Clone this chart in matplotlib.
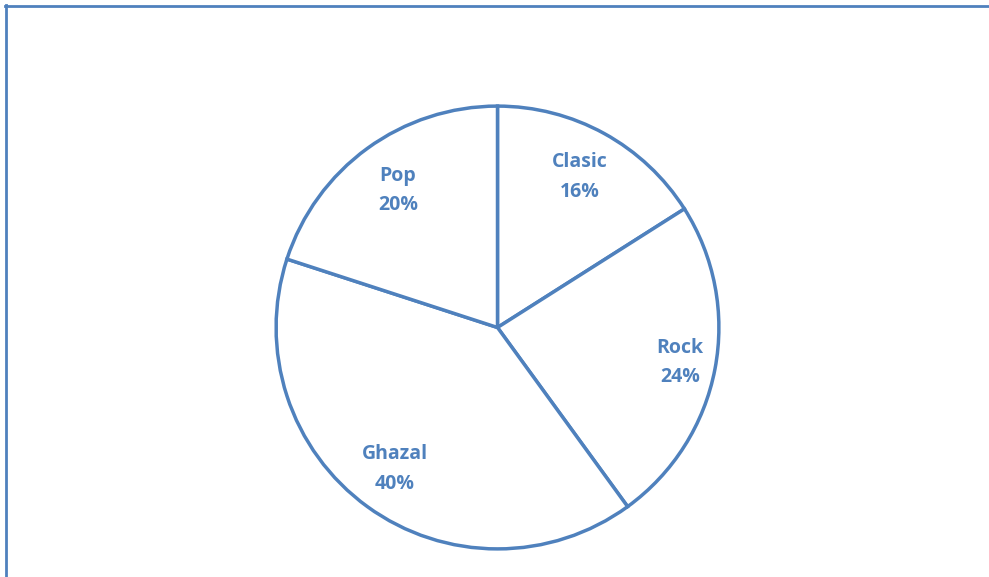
import matplotlib
matplotlib.use("Agg")
import matplotlib.pyplot as plt
from matplotlib.lines import Line2D
import numpy as np

genres = ["Clasic", "Rock", "Ghazal", "Pop"]
shares = [16, 24, 40, 20]
label_dist = [0.775, 0.84, 0.79, 0.765]

blue = "#4F81BD"
W, H = 989, 577
fig = plt.figure(figsize=(W / 100, H / 100), dpi=100)

# frame lines along the top and left edges
fig.add_artist(Line2D([5.5 / W, 5.5 / W], [0, 1 - 5 / H], transform=fig.transFigure,
                      color=blue, lw=2.0))
fig.add_artist(Line2D([5 / W, 1], [1 - 5.5 / H, 1 - 5.5 / H], transform=fig.transFigure,
                      color=blue, lw=2.0))

cx, cy, r = 497.5, 577 - 327.5, 222.5
ax = fig.add_axes([(cx - r) / W, (cy - r) / H, 2 * r / W, 2 * r / H])

wedges, _ = ax.pie(shares, startangle=90, counterclock=False, radius=1.0,
                   colors=["white"] * len(shares),
                   wedgeprops=dict(edgecolor=blue, linewidth=2.5))

for w, name, val, d in zip(wedges, genres, shares, label_dist):
    mid = np.deg2rad((w.theta1 + w.theta2) / 2)
    ax.text(d * np.cos(mid), d * np.sin(mid), f"{name}\n{val}%",
            ha="center", va="center", color=blue, fontsize=14,
            fontweight="bold", family="Open Sans", linespacing=1.62)

ax.set_xlim(-1.005, 1.005)
ax.set_ylim(-1.005, 1.005)
ax.set_aspect("equal")
ax.axis("off")

fig.savefig("out.png", dpi=100, facecolor="white")
